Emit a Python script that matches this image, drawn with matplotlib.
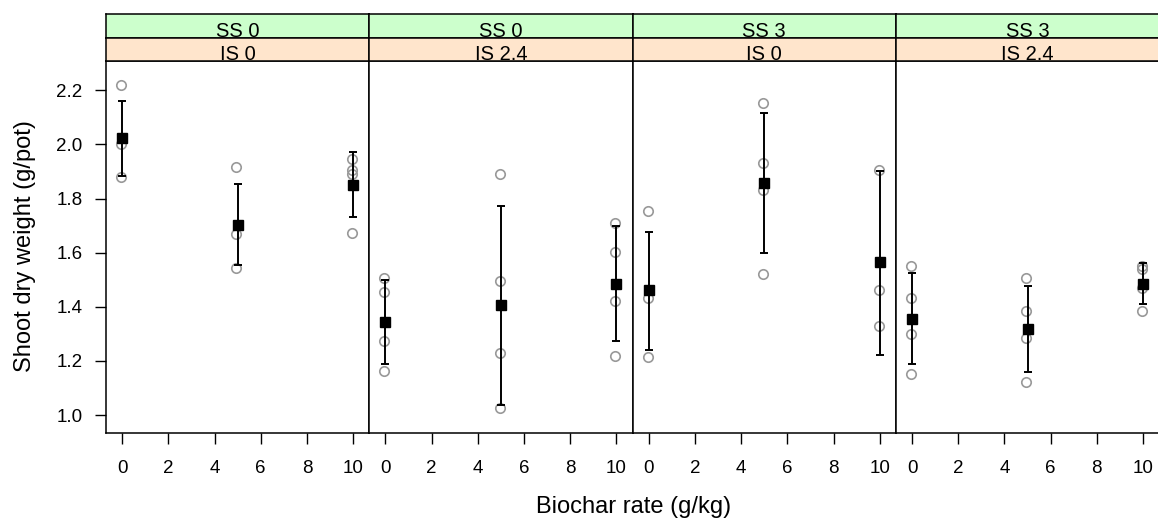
import numpy as np
import matplotlib
matplotlib.use('Agg')
from matplotlib import pyplot as plt

plt.rcParams['font.family'] = ['Liberation Sans', 'DejaVu Sans']

# panel labels (top strip / bottom strip)
ss_labels = ['SS 0', 'SS 0', 'SS 3', 'SS 3']
is_labels = ['IS 0', 'IS 2.4', 'IS 0', 'IS 2.4']

# biochar rates
rates = [0, 5, 10]

# raw observations per panel, per rate
obs = [
    [[2.22, 2.00, 1.88], [1.915, 1.67, 1.545], [1.945, 1.905, 1.892, 1.672]],
    [[1.505, 1.453, 1.273, 1.162], [1.892, 1.495, 1.231, 1.025], [1.711, 1.602, 1.423, 1.220]],
    [[1.753, 1.434, 1.215], [2.153, 1.933, 1.833, 1.522], [1.905, 1.463, 1.330]],
    [[1.552, 1.434, 1.301, 1.151], [1.505, 1.383, 1.285, 1.123], [1.550, 1.541, 1.468, 1.383]],
]

# means and error bar limits per panel
means = [
    [2.025, 1.703, 1.849],
    [1.343, 1.405, 1.486],
    [1.463, 1.859, 1.564],
    [1.354, 1.320, 1.484],
]
err_low = [
    [1.882, 1.555, 1.732],
    [1.188, 1.038, 1.274],
    [1.240, 1.600, 1.223],
    [1.188, 1.159, 1.409],
]
err_high = [
    [2.160, 1.853, 1.971],
    [1.501, 1.773, 1.697],
    [1.675, 2.115, 1.903],
    [1.526, 1.478, 1.561],
]

W, H = 1158, 524
fig = plt.figure(figsize=(W / 100, H / 100), dpi=100)

# layout in pixels
left, right = 106, 1159.2
pw = (right - left) / 4
p_top, p_bot = 61.3, 433
s_mid, s_top = 37.7, 14

def fy(y):
    return 1 - y / H

for i in range(4):
    x0 = (left + i * pw) / W
    ax = fig.add_axes([x0, fy(p_bot), pw / W, fy(p_top) - fy(p_bot)])

    # grey open circles for the raw data
    for r, vals in zip(rates, obs[i]):
        ax.plot([r - 0.05] * len(vals), vals, 'o', mfc='none', mec='#999999',
                ms=6.8, mew=1.2, zorder=2)

    # mean + error bars
    m = np.array(means[i])
    lo = m - np.array(err_low[i])
    hi = np.array(err_high[i]) - m
    ax.errorbar(rates, m, yerr=[lo, hi], fmt='s', color='black', ms=7.5,
                elinewidth=1.4, capsize=3.2, capthick=1.4, zorder=3)

    ax.set_xlim(-0.7, 10.7)
    ax.set_ylim(0.934, 2.307)
    ax.set_xticks([0, 2, 4, 6, 8, 10])
    ax.set_yticks([1.0, 1.2, 1.4, 1.6, 1.8, 2.0, 2.2])
    ax.tick_params(axis='x', direction='out', length=8, width=1, pad=11.5,
                   labelsize=13.5)
    ax.tick_params(axis='y', direction='out', length=8, width=1, pad=9,
                   labelsize=13.5)
    if i > 0:
        ax.tick_params(axis='y', left=False, labelleft=False)
    for sp in ax.spines.values():
        sp.set_linewidth(1.1)

    # strips on top
    for (yb, yt, col, lab) in [(s_mid, s_top, '#ccffcc', ss_labels[i]),
                               (p_top, s_mid, '#ffe5cc', is_labels[i])]:
        sax = fig.add_axes([x0, fy(yb), pw / W, fy(yt) - fy(yb)])
        sax.set_facecolor(col)
        sax.set_xticks([])
        sax.set_yticks([])
        for sp in sax.spines.values():
            sp.set_linewidth(1.1)
        sax.text(0.5, 1.0 / (yb - yt), lab, transform=sax.transAxes,
                 ha='center', va='baseline', fontsize=14.5)

fig.text(25 / W, fy(246), 'Shoot dry weight (g/pot)', rotation=90,
         ha='center', va='center', fontsize=17)
fig.text(634 / W, fy(507), 'Biochar rate (g/kg)', ha='center',
         va='center', fontsize=17)

fig.savefig('out.png', dpi=100)
